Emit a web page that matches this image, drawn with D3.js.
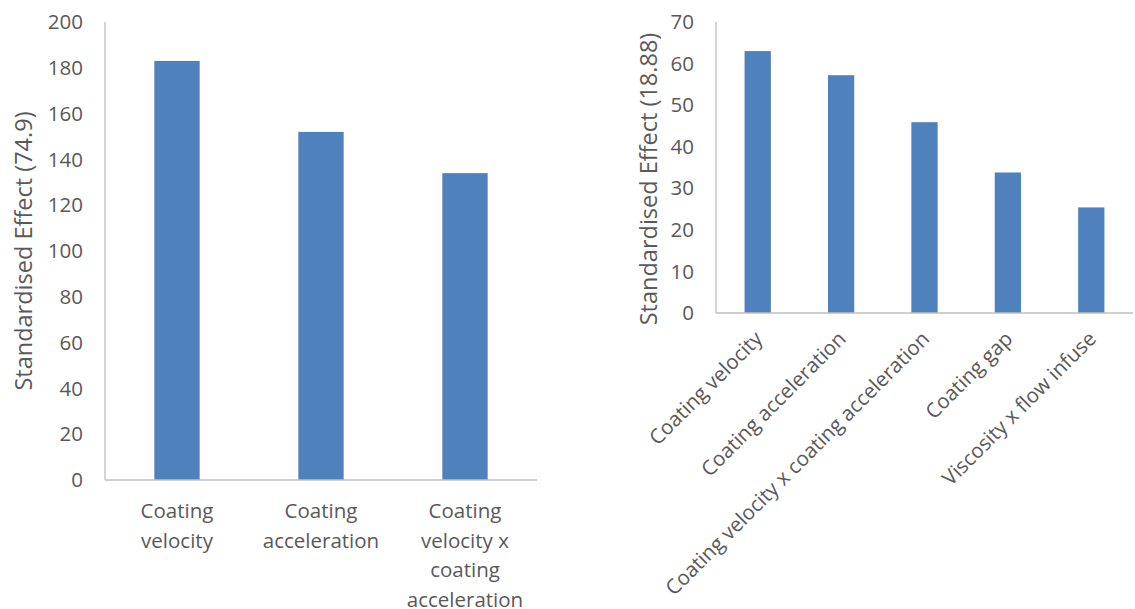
<!DOCTYPE html>
<html><head><meta charset="utf-8">
<script src="https://cdn.jsdelivr.net/npm/d3@7"></script>
<style>body{margin:0;background:#fff}svg{display:block}text{font-family:"Open Sans",sans-serif;fill:#595959}</style>
</head><body><svg id="c" width="1135" height="609"></svg>
<script>
const leftCategories = [["Coating","velocity"],["Coating","acceleration"],["Coating","velocity x","coating","acceleration"]];
const leftValues = [183, 152, 134];
const leftTicks = [0,20,40,60,80,100,120,140,160,180,200];
const leftTitle = "Standardised Effect (74.9)";

const rightCategories = ["Coating velocity","Coating acceleration","Coating velocity x coating acceleration","Coating gap","Viscosity x flow infuse"];
const rightValues = [63, 57.2, 45.9, 33.8, 25.4];
const rightTicks = [0,10,20,30,40,50,60,70];
const rightTitle = "Standardised Effect (18.88)";

const svg = d3.select("#c");
const barColor = "#4F81BD", axisColor = "#BFBFBF", fs = 20.5, tfs = 23.5;

function drawChart(o){
  const g = svg.append("g");
  const x = d3.scaleBand().domain(d3.range(o.values.length)).range([o.x0,o.x1]).paddingInner(0.685).paddingOuter(0.3425);
  const y = d3.scaleLinear().domain([0,o.max]).range([o.y0,o.y1]);
  g.selectAll("rect").data(o.values).join("rect")
    .attr("x",(d,i)=>x(i)).attr("width",x.bandwidth())
    .attr("y",d=>y(d)).attr("height",d=>y(0)-y(d)).attr("fill",barColor);
  g.append("line").attr("x1",o.x0).attr("x2",o.x0).attr("y1",o.y1).attr("y2",o.y0).attr("stroke",axisColor).attr("stroke-width",1.3);
  g.append("line").attr("x1",o.x0).attr("x2",o.x1).attr("y1",o.y0).attr("y2",o.y0).attr("stroke",axisColor).attr("stroke-width",1.3);
  g.selectAll("text.yt").data(o.ticks).join("text").attr("class","yt")
    .attr("x",o.x0-22).attr("y",d=>y(d)).attr("dy","0.35em").attr("text-anchor","end")
    .style("font-size",fs+"px").text(d=>d);
  g.append("text").attr("transform",`translate(${o.titleX},${o.titleY}) rotate(-90)`)
    .attr("text-anchor","middle").attr("dy","0.35em").style("font-size",tfs+"px").text(o.title);
  const cx = i => x(i)+x.bandwidth()/2;
  if(o.rotate){
    g.selectAll("text.xl").data(o.cats).join("text").attr("class","xl")
      .attr("transform",(d,i)=>`translate(${cx(i)+1},${o.y0+22}) rotate(-45)`)
      .attr("text-anchor","end").attr("dy","0.35em").style("font-size",fs+"px").text(d=>d);
  } else {
    const t = g.selectAll("text.xl").data(o.cats).join("text").attr("class","xl")
      .attr("x",(d,i)=>cx(i)).attr("y",o.y0+38).attr("text-anchor","middle").style("font-size",fs+"px");
    t.selectAll("tspan").data((d,i)=>d.map(s=>({s,i}))).join("tspan")
      .attr("x",d=>cx(d.i)).attr("dy",(d,j)=>j?29.5:0).text(d=>d.s);
  }
}

drawChart({values:leftValues,cats:leftCategories,ticks:leftTicks,max:200,x0:105,x1:537,y0:480,y1:22,title:leftTitle,titleX:24,titleY:251,rotate:false});
drawChart({values:rightValues,cats:rightCategories,ticks:rightTicks,max:70,x0:716,x1:1133,y0:313,y1:22,title:rightTitle,titleX:649,titleY:179,rotate:true});
</script></body></html>
